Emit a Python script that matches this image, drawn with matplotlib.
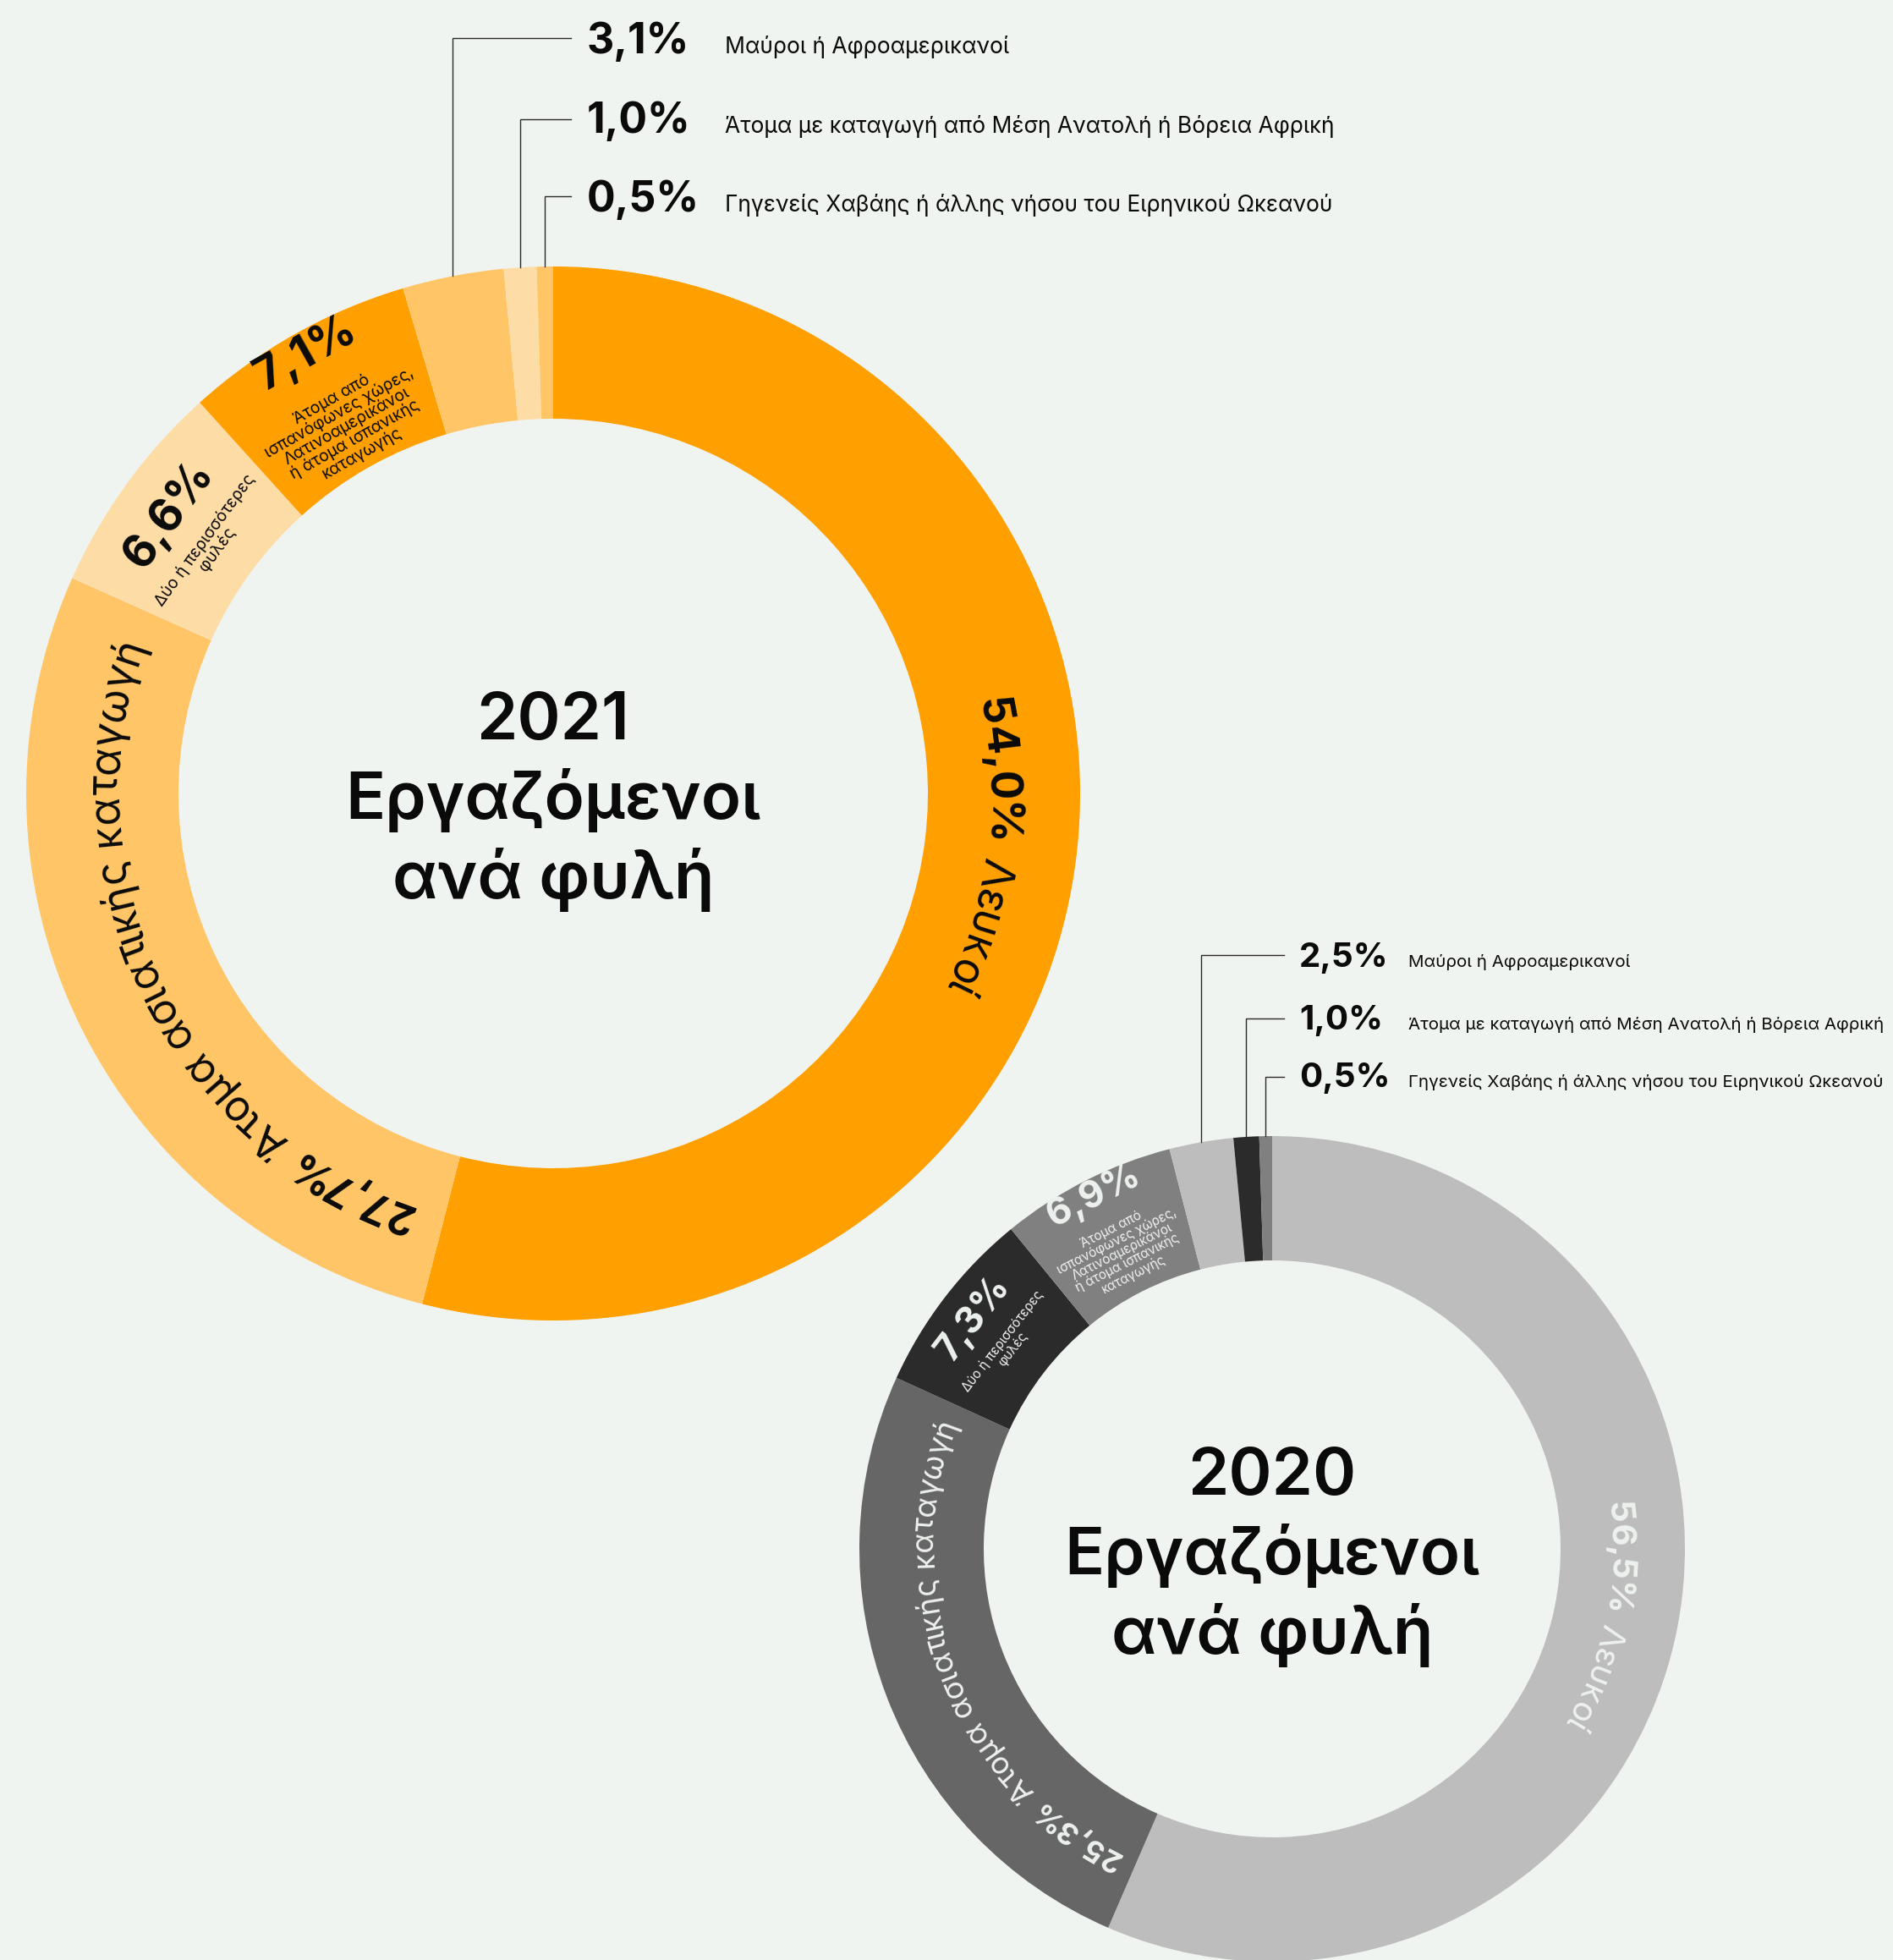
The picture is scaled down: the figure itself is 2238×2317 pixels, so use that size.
import numpy as np
import matplotlib.pyplot as plt
from matplotlib.font_manager import FontProperties, findfont, get_font

W, H = 2238, 2317
DPI = 100
BG = '#f0f4f0'
FONT = 'Inter'

# ---- data ----
years = ['2021', '2020']
values_2021 = [54.0, 27.7, 6.6, 7.1, 3.1, 1.0, 0.5]
values_2020 = [56.5, 25.3, 7.3, 6.9, 2.5, 1.0, 0.5]
colors_2021 = ['#ff9f00', '#ffc566', '#fedca6', '#ff9f00', '#ffc566', '#fedca6', '#ffc566']
colors_2020 = ['#bdbdbd', '#666666', '#2b2b2b', '#808080', '#bdbdbd', '#2b2b2b', '#808080']
seg_labels = ['Λευκοί',
              'Άτομα ασιατικής καταγωγή',
              'Δύο ή περισσότερες\nφυλές',
              'Άτομα από\nισπανόφωνες χώρες,\nΛατινοαμερικάνοι\nή άτομα ισπανικής\nκαταγωγής',
              'Μαύροι ή Αφροαμερικανοί',
              'Άτομα με καταγωγή από Μέση Ανατολή ή Βόρεια Αφρική',
              'Γηγενείς Χαβάης ή άλλης νήσου του Ειρηνικού Ωκεανού']
title_lines = ['Εργαζόμενοι', 'ανά φυλή']


def pct(v):
    return f'{v:.1f}'.replace('.', ',') + '%'


def Y(p):
    return H - p


fig = plt.figure(figsize=(W / DPI, H / DPI), dpi=DPI, facecolor=BG)
ax = fig.add_axes([0, 0, 1, 1])
ax.set_facecolor(BG)


def curved(cx, cy, r_mid, mid_deg, parts, size, color):
    chars = []
    for s, w in parts:
        ft = get_font(findfont(FontProperties(family=FONT, weight=w)))
        ft.set_size(size, DPI)
        for c in s:
            adv = ft.load_char(ord(c)).linearHoriAdvance / 65536
            chars.append((c, w, adv))
    total = sum(a for _, _, a in chars)
    rb = r_mid - 0.36 * size * DPI / 72
    ang = np.radians(mid_deg) + total / 2 / rb
    for c, w, adv in chars:
        a = ang - adv / 2 / rb
        ax.text(cx + rb * np.cos(a), cy + rb * np.sin(a), c, rotation=np.degrees(a) - 90,
                rotation_mode='anchor', ha='center', va='baseline', fontsize=size,
                fontweight=w, family=FONT, color=color)
        ang -= adv / rb


# layout per donut
cfg = [
    dict(vals=values_2021, cols=colors_2021, cx=654, cy=938, R=623, r=443, tc='#0a0a0a',
         curve_size=[37, 36], blk_pct=39, blk_small=14, blk_r=[(561, 500), (596, 498)],
         leg_line=[45, 141, 232], leg_base=[63, 157, 250], leg_x=(675, 694, 857),
         leg_pct=36, leg_lab=19),
    dict(vals=values_2020, cols=colors_2020, cx=1504, cy=1831, R=488, r=341, tc='#eef2ee',
         curve_size=[29, 26], blk_pct=32, blk_small=11, blk_r=[(446, 395), (468, 393)],
         leg_line=[1129, 1204, 1273], leg_base=[1143, 1217, 1285], leg_x=(1518, 1536, 1665),
         leg_pct=29, leg_lab=14.8),
]

for year, c in zip(years, cfg):
    cx, cy = c['cx'], Y(c['cy'])
    vals = c['vals']
    ax.pie(vals, colors=c['cols'], startangle=90, counterclock=False, radius=c['R'],
           center=(cx, cy), wedgeprops=dict(width=c['R'] - c['r'], linewidth=0))
    cum = np.concatenate([[0], np.cumsum(vals)])
    starts = 90 - 3.6 * cum[:-1]
    ends = 90 - 3.6 * cum[1:]
    mids = (starts + ends) / 2
    rm = (c['R'] + c['r']) / 2

    # big segments: curved labels
    for i in (0, 1):
        curved(cx, cy, rm, mids[i], [(pct(vals[i]), 'bold'), (' ' + seg_labels[i], 'normal')],
               c['curve_size'][i], c['tc'])

    # medium segments: rotated blocks
    for k, i in enumerate((2, 3)):
        a = np.radians(mids[i])
        rp, rs = c['blk_r'][k]
        ax.text(cx + rp * np.cos(a), cy + rp * np.sin(a), pct(vals[i]), rotation=mids[i] - 90,
                rotation_mode='anchor', ha='center', va='center', fontsize=c['blk_pct'],
                fontweight='bold', family=FONT, color=c['tc'])
        ax.text(cx + rs * np.cos(a), cy + rs * np.sin(a), seg_labels[i], rotation=mids[i] - 90,
                rotation_mode='anchor', ha='center', va='center', fontsize=c['blk_small'],
                family=FONT, color=c['tc'], linespacing=0.95, multialignment='center')

    # small segments: leader lines + legend text
    x_end, x_pct, x_lab = c['leg_x']
    for k, i in enumerate((4, 5, 6)):
        a = np.radians(mids[i])
        x0 = cx + c['R'] * np.cos(a)
        y0 = cy + c['R'] * np.sin(a)
        yl = Y(c['leg_line'][k])
        ax.plot([x0, x0, x_end], [y0, yl, yl], color='#2a2a2a', lw=1.0,
                solid_joinstyle='miter')
        yb = Y(c['leg_base'][k])
        ax.text(x_pct, yb, pct(vals[i]), ha='left', va='baseline', fontsize=c['leg_pct'],
                fontweight='bold', family=FONT, color='#0a0a0a')
        ax.text(x_lab, yb, seg_labels[i], ha='left', va='baseline', fontsize=c['leg_lab'],
                family=FONT, color='#0a0a0a')

    # centre title
    for line, off in zip([year] + title_lines, (-64, 30, 124)):
        ax.text(cx, Y(c['cy'] + off), line, ha='center', va='baseline', fontsize=56,
                fontweight='semibold', family=FONT, color='#0a0a0a')

ax.set_xlim(0, W)
ax.set_ylim(0, H)
ax.set_aspect('equal')
ax.axis('off')
fig.savefig('out.png', dpi=DPI, facecolor=BG)
